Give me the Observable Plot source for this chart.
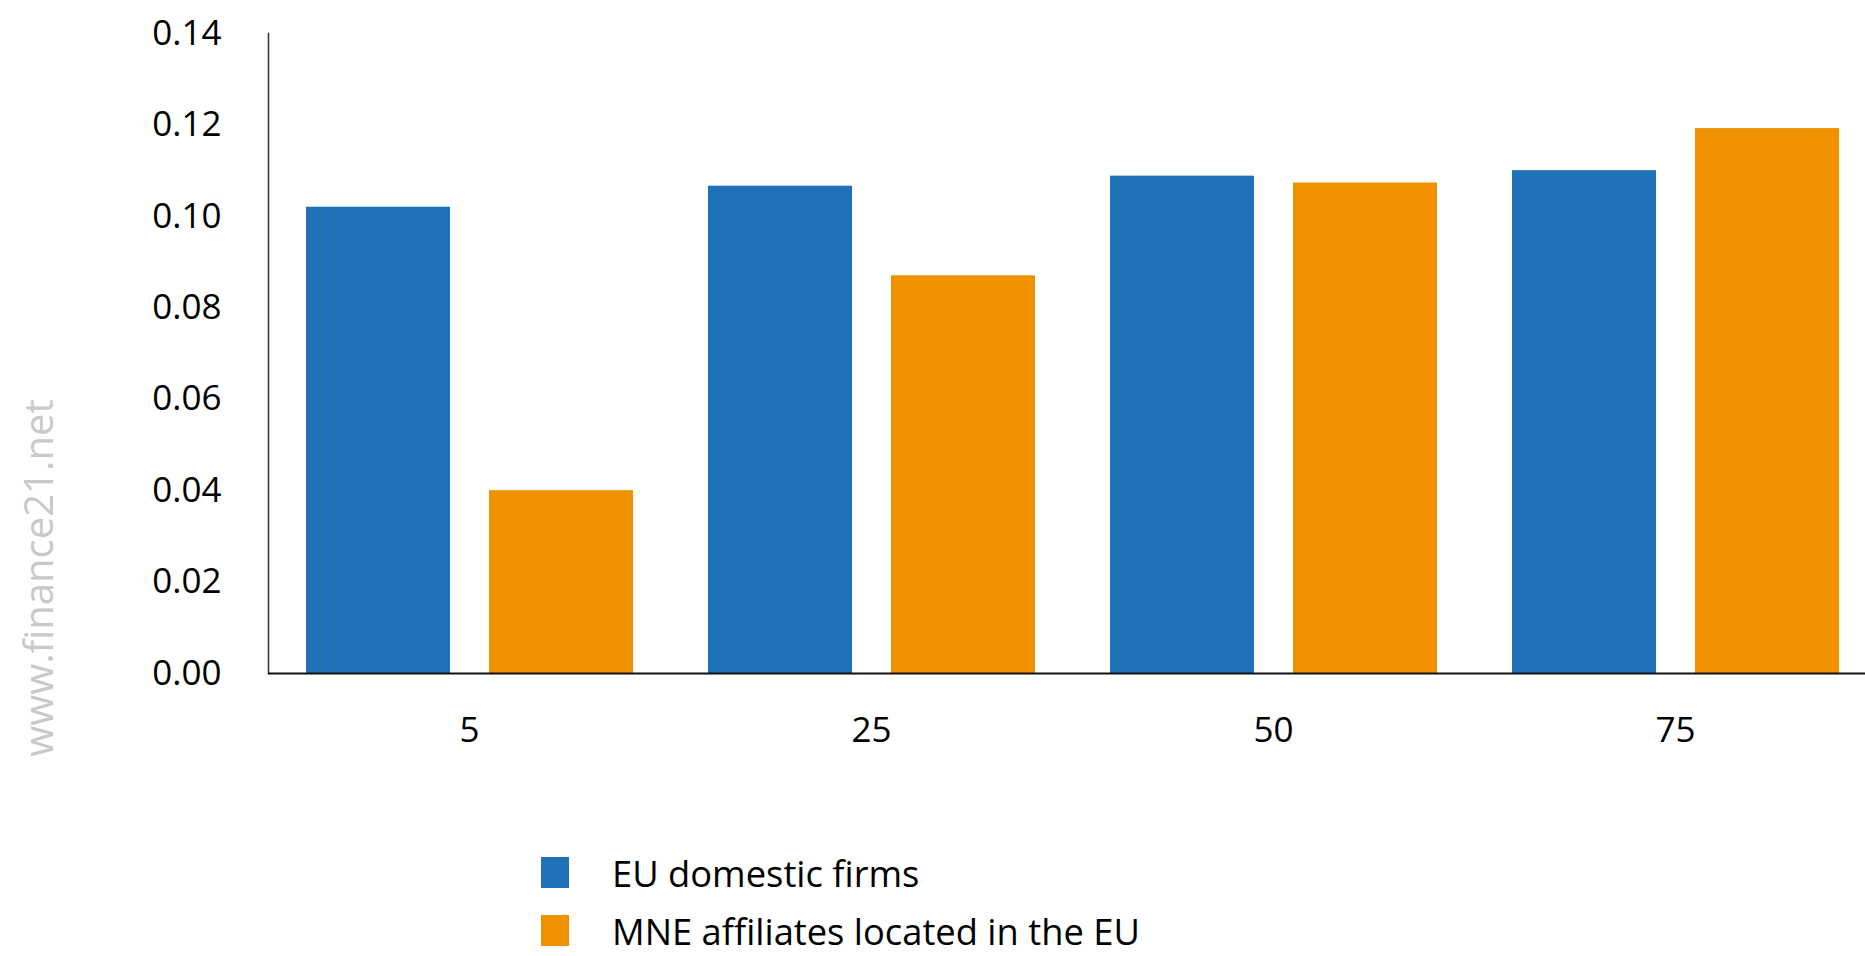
<!DOCTYPE html>
<html>
<head>
<meta charset="utf-8">
<script src="https://cdn.jsdelivr.net/npm/d3@7"></script>
<script src="https://cdn.jsdelivr.net/npm/@observablehq/plot@0.6"></script>
<style>
  html, body { margin: 0; padding: 0; background: #fff; overflow: hidden; }
  body { width: 1865px; height: 956px; position: relative; font-family: "Open Sans", sans-serif; }
  #watermark {
    position: absolute; left: 37px; top: 578px;
    transform: translate(-50%, -50%) rotate(-90deg);
    color: #c9c9c9; font-size: 40px; white-space: nowrap; font-family: "Open Sans", sans-serif;
  }
  #legend { position: absolute; left: 541px; top: 857px; }
  .item { display: flex; align-items: center; height: 31px; margin-bottom: 27px; }
  .item:last-child { margin-bottom: 0; }
  .sw { width: 28px; height: 31px; margin-right: 43px; flex: none; }
  .lab { font-size: 36.3px; line-height: 28px; color: #000; white-space: nowrap; }
</style>
</head>
<body>
<div id="chart"></div>
<div id="watermark">www.finance21.net</div>
<div id="legend"></div>
<script>
const groups = ["5", "25", "50", "75"];
const series = ["EU domestic firms", "MNE affiliates located in the EU"];
const euDomestic = [0.102, 0.1066, 0.1088, 0.110];
const mneAffiliates = [0.040, 0.087, 0.1073, 0.1192];
const colors = ["#1f71b8", "#f09100"];
const yTicks = [0, 0.02, 0.04, 0.06, 0.08, 0.10, 0.12, 0.14];

const rows = [];
groups.forEach((g, i) => {
  rows.push({group: g, series: series[0], value: euDomestic[i]});
  rows.push({group: g, series: series[1], value: mneAffiliates[i]});
});

const plot = Plot.plot({
  width: 1865,
  height: 800,
  marginLeft: 268,
  marginRight: 0,
  marginTop: 33,
  marginBottom: 127,
  style: {fontSize: "35px", fontFamily: "Open Sans, sans-serif", color: "#000", background: "#fff"},
  fx: {domain: groups, range: [268, 1876], paddingInner: 0, paddingOuter: 0, tickSize: 0, tickPadding: 44, label: null},
  x: {domain: series, paddingInner: 0.214, paddingOuter: 0.205, axis: null},
  y: {domain: [0, 0.14], ticks: yTicks, tickFormat: d3.format(".2f"), tickSize: 0, tickPadding: 47, label: null},
  color: {domain: series, range: colors},
  marks: [
    Plot.barY(rows, {fx: "group", x: "series", y: "value", fill: "series"}),
    Plot.frame({anchor: "left", stroke: "#333", strokeWidth: 1.5, facetAnchor: "left"}),
    Plot.ruleY([0], {stroke: "#111", strokeWidth: 2})
  ]
});
document.getElementById("chart").appendChild(plot);

const legend = document.getElementById("legend");
series.forEach((s, i) => {
  const item = document.createElement("div");
  item.className = "item";
  const sw = document.createElement("div");
  sw.className = "sw";
  sw.style.background = colors[i];
  const lab = document.createElement("span");
  lab.className = "lab";
  lab.textContent = s;
  item.appendChild(sw);
  item.appendChild(lab);
  legend.appendChild(item);
});
</script>
</body>
</html>
